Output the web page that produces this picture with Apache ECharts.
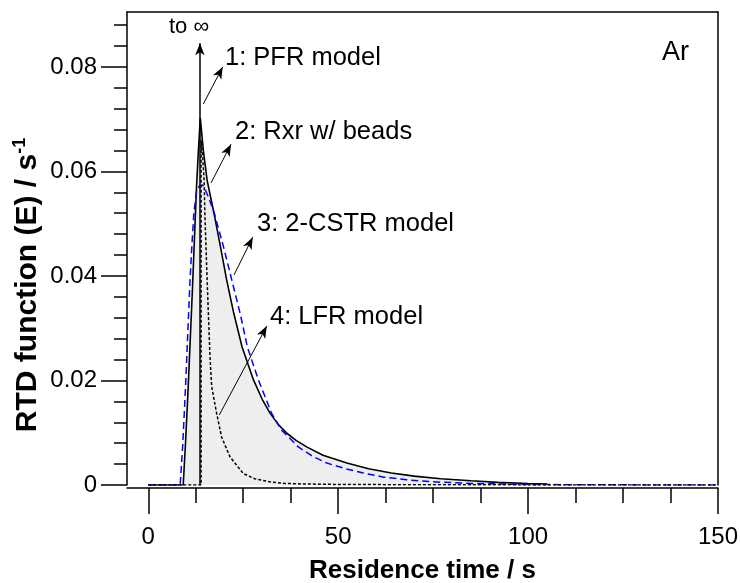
<!DOCTYPE html>
<html><head><meta charset="utf-8">
<script src="https://cdn.jsdelivr.net/npm/echarts@6/dist/echarts.min.js"></script>
<style>html,body{margin:0;padding:0;background:#fff}#c{width:740px;height:583px}</style>
</head><body><div id="c"></div>
<script>
// ---- data ----
const rxrT = [0, 9.2, 9.8, 10.4, 11.0, 11.6, 12.2, 12.7, 13.2, 13.7, 14.5, 15.5, 17.3, 19.0, 20.65, 22.5, 24.7, 27.7, 30.0, 32.1, 34.2, 36.5, 39.0, 41.7, 46.0, 52.3, 58.0, 64.0, 70.0, 77.0, 85.0, 92.0, 100.0, 105.0];
const rxrE = [0, 0, 0.008, 0.017, 0.027, 0.037, 0.048, 0.057, 0.064, 0.0702, 0.064, 0.0583, 0.052, 0.0456, 0.0392, 0.0329, 0.0264, 0.0201, 0.0164, 0.0137, 0.0116, 0.0099, 0.0085, 0.0073, 0.0057, 0.0042, 0.0031, 0.0023, 0.0017, 0.0012, 0.0008, 0.0005, 0.0003, 0.0002];

const cstrT = [0, 8.4, 9.05, 9.9, 10.4, 11.0, 11.5, 12.0, 12.75, 13.5, 14.3, 15.0, 16.0, 17.4, 19.8, 22.0, 24.2, 26.1, 29.0, 32.5, 35.1, 39.5, 43.0, 47.0, 52.0, 56.6, 62.0, 68.0, 75.0, 85.0, 100.0, 120.0, 150.0];
const cstrE = [0, 0, 0.0073, 0.0201, 0.029, 0.0392, 0.046, 0.052, 0.0564, 0.0572, 0.0574, 0.0565, 0.0548, 0.052, 0.0456, 0.0392, 0.0328, 0.0264, 0.0201, 0.0137, 0.0105, 0.0073, 0.0056, 0.0042, 0.0031, 0.0023, 0.0015, 0.001, 0.0006, 0.0003, 0.0001, 0.00003, 0];

const lfrT = [0, 13.9, 13.9, 14.3, 14.7, 14.9, 15.5, 16.25, 16.7, 18.0, 19.3, 21.5, 25.0, 28.0, 32.0, 36.0, 40.8, 50, 70, 100, 150];
const lfrE = [0, 0, 0.066, 0.063, 0.0583, 0.052, 0.0392, 0.0245, 0.0188, 0.0137, 0.0092, 0.0054, 0.0022, 0.0012, 0.0006, 0.0003, 0.0002, 0.0001, 0.00005, 0.00002, 0];

const pfrT = [13.6, 13.6];
const pfrE = [0, 0.0845];

// annotation arrows: [tStart, eStart, tEnd, eEnd]
const arrow1 = [14.49, 0.0729, 19.6, 0.0800];
const arrow2 = [16.52, 0.0578, 21.79, 0.0652];
const arrow3 = [22.58, 0.0402, 27.5, 0.0474];
const arrow4 = [18.7, 0.0134, 31.2, 0.0304];

const xMajor = [0, 50, 100, 150];
const xMinor = [12.5, 25, 37.5, 62.5, 75, 87.5, 112.5, 125, 137.5];
const yMajor = [0, 0.02, 0.04, 0.06, 0.08];
const yMinor = [0.004, 0.008, 0.012, 0.016, 0.024, 0.028, 0.032, 0.036, 0.044, 0.048, 0.052, 0.056, 0.064, 0.068, 0.072, 0.076, 0.084, 0.088];

const X_MIN = -5.6, X_MAX = 150, Y_MIN = 0, Y_MAX = 0.0905;
const FONT = '"Liberation Sans", Arial, sans-serif';

const pair = (t, e) => t.map((v, i) => [v, e[i]]);
const arrowItem = (a, w) => [
  { coord: [a[0], a[1]], symbol: 'none' },
  { coord: [a[2], a[3]], symbol: 'arrow', symbolSize: [7, 12], lineStyle: { color: '#000', width: w, type: 'solid' } }
];

const chart = echarts.init(document.getElementById('c'), null, { renderer: 'canvas' });
const blk = { color: '#000', width: 1.5 };
const hidden = { show: false };
const ANN = '25.5px ' + FONT;

const option = {
  animation: false,
  backgroundColor: '#fff',
  grid: { left: 127, right: 22, top: 12, bottom: 98, containLabel: false, outerBoundsMode: 'none' },
  xAxis: [
    { type: 'value', min: X_MIN, max: X_MAX, position: 'bottom', offset: 3,
      axisLine: { onZero: false, lineStyle: blk },
      axisTick: { show: true, customValues: xMajor, length: 26, lineStyle: blk },
      axisLabel: { customValues: xMajor, fontSize: 24, color: '#000', margin: 37, fontFamily: FONT },
      splitLine: hidden,
      name: 'Residence time / s', nameLocation: 'middle', nameGap: 70,
      nameTextStyle: { fontSize: 26, fontWeight: 'bold', color: '#000', fontFamily: FONT } },
    { type: 'value', min: X_MIN, max: X_MAX, position: 'bottom', offset: 3,
      axisLine: { show: false, onZero: false },
      axisTick: { show: true, customValues: xMinor, length: 15, lineStyle: blk },
      axisLabel: hidden, splitLine: hidden },
    { type: 'value', min: X_MIN, max: X_MAX, position: 'top',
      axisLine: { show: true, onZero: false, lineStyle: blk },
      axisTick: hidden, axisLabel: hidden, splitLine: hidden }
  ],
  yAxis: [
    { type: 'value', min: Y_MIN, max: Y_MAX, position: 'left',
      axisLine: { show: true, onZero: false, lineStyle: blk },
      axisTick: { show: true, customValues: yMajor, length: 26, lineStyle: blk },
      axisLabel: { customValues: yMajor, fontSize: 24, color: '#000', margin: 30, fontFamily: FONT,
        formatter: v => v === 0 ? '0' : v.toFixed(2) },
      splitLine: hidden },
    { type: 'value', min: Y_MIN, max: Y_MAX, position: 'left',
      axisLine: { show: false, onZero: false },
      axisTick: { show: true, customValues: yMinor, length: 13, lineStyle: blk },
      axisLabel: hidden, splitLine: hidden },
    { type: 'value', min: Y_MIN, max: Y_MAX, position: 'right',
      axisLine: { show: true, onZero: false, lineStyle: blk },
      axisTick: hidden, axisLabel: hidden, splitLine: hidden }
  ],
  series: [
    { name: 'Rxr w/ beads', type: 'line', data: pair(rxrT, rxrE), symbol: 'none', z: 2,
      lineStyle: { color: '#000', width: 1.6 }, areaStyle: { color: '#eeeeee', opacity: 1 } },
    { name: '2-CSTR model', type: 'line', data: pair(cstrT, cstrE), symbol: 'none', z: 3,
      lineStyle: { color: '#0000ff', width: 1.5, type: [7, 4] } },
    { name: 'LFR model', type: 'line', data: pair(lfrT, lfrE), symbol: 'none', z: 4,
      lineStyle: { color: '#000', width: 1.5, type: [3, 2] } },
    { name: 'PFR model', type: 'line', data: [], z: 5,
      markLine: { silent: true, animation: false, label: hidden, symbol: ['none', 'arrow'],
        lineStyle: { color: '#000', width: 1, type: 'solid' },
        data: [
          arrowItem([pfrT[0], pfrE[0], pfrT[1], pfrE[1]], 1.5),
          arrowItem(arrow1, 1), arrowItem(arrow2, 1), arrowItem(arrow3, 1), arrowItem(arrow4, 1)
        ] } }
  ],
  graphic: [
    { type: 'text', x: 169, y: 27, style: { text: 'to ∞', font: '22px ' + FONT, fill: '#000', align: 'left', verticalAlign: 'middle' } },
    { type: 'text', x: 225, y: 58, style: { text: '1: PFR model', font: ANN, fill: '#000', align: 'left', verticalAlign: 'middle' } },
    { type: 'text', x: 235, y: 132, style: { text: '2: Rxr w/ beads', font: ANN, fill: '#000', align: 'left', verticalAlign: 'middle' } },
    { type: 'text', x: 257, y: 224, style: { text: '3: 2-CSTR model', font: ANN, fill: '#000', align: 'left', verticalAlign: 'middle' } },
    { type: 'text', x: 270, y: 317, style: { text: '4: LFR model', font: ANN, fill: '#000', align: 'left', verticalAlign: 'middle' } },
    { type: 'text', x: 662, y: 53, style: { text: 'Ar', font: '27px ' + FONT, fill: '#000', align: 'left', verticalAlign: 'middle' } },
    { type: 'text', x: 28, y: 285, rotation: Math.PI / 2,
      style: { text: '{a|RTD function (E) / s}{b|-1}', align: 'center', verticalAlign: 'middle', fill: '#000',
        rich: { a: { fontSize: 30, fontWeight: 'bold', fontFamily: FONT, fill: '#000', lineHeight: 34 },
                b: { fontSize: 18, fontWeight: 'bold', fontFamily: FONT, fill: '#000', verticalAlign: 'top', lineHeight: 34 } } } }
  ]
};
chart.setOption(option);
</script></body></html>
